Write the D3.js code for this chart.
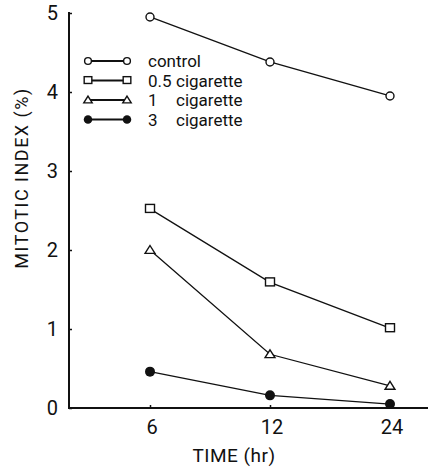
<!DOCTYPE html>
<html>
<head>
<meta charset="utf-8">
<script src="https://cdn.jsdelivr.net/npm/d3@7"></script>
<style>
  body { margin: 0; background: #fff; }
  svg { display: block; }
  text { font-family: Roboto, "Liberation Sans", sans-serif; font-weight: 400; fill: #111; }
</style>
</head>
<body>
<div id="chart"></div>
<script>
var WIDTH = 431
var HEIGHT = 469

// data
var times = ['6', '12', '24']
var control = [4.95, 4.38, 3.95]
var cig05 = [2.52, 1.59, 1.01]
var cig1 = [2.0, 0.68, 0.28]
var cig3 = [0.46, 0.16, 0.05]
var yTicks = [0, 1, 2, 3, 4, 5]

var series = [
  {num: '', name: 'control', values: control, marker: 'circle'},
  {num: '0.5', name: 'cigarette', values: cig05, marker: 'square'},
  {num: '1', name: 'cigarette', values: cig1, marker: 'triangle'},
  {num: '3', name: 'cigarette', values: cig3, marker: 'dot'}
]

var svg = d3.select('#chart').append('svg')
  .attr('width', WIDTH)
  .attr('height', HEIGHT)

var axisX = 69
var axisY = 408

var xScale = d3.scalePoint()
  .domain(times)
  .range([150, 390])

var yScale = d3.scaleLinear()
  .domain([0, 5])
  .range([axisY, 13])

// axes
var yAxis = svg.append('g')
  .attr('transform', 'translate(' + axisX + ',0)')
  .call(d3.axisRight(yScale).tickValues(yTicks).tickSize(3).tickFormat(''))
yAxis.select('.domain').remove()
yAxis.selectAll('.tick line').attr('stroke', '#111').attr('stroke-width', 1.5)
svg.append('line')
  .attr('x1', axisX).attr('x2', axisX)
  .attr('y1', yScale(5) - 1).attr('y2', axisY + 1)
  .attr('stroke', '#111').attr('stroke-width', 2)

svg.selectAll('.ylab').data(yTicks).enter().append('text')
  .attr('class', 'ylab')
  .attr('x', 58)
  .attr('y', function(d) { return yScale(d) + 7 })
  .attr('text-anchor', 'end')
  .style('font-size', '20px')
  .text(function(d) { return d })

var xAxis = svg.append('g')
  .attr('transform', 'translate(0,' + axisY + ')')
  .call(d3.axisTop(xScale).tickSize(3).tickFormat(''))
xAxis.select('.domain').remove()
xAxis.selectAll('.tick line').attr('stroke', '#111').attr('stroke-width', 1.5)
svg.append('line')
  .attr('x1', axisX - 1).attr('x2', 428)
  .attr('y1', axisY).attr('y2', axisY)
  .attr('stroke', '#111').attr('stroke-width', 2)

svg.selectAll('.xlab').data(times).enter().append('text')
  .attr('class', 'xlab')
  .attr('x', function(d) { return xScale(d) + 2 })
  .attr('y', 434)
  .attr('text-anchor', 'middle')
  .style('font-size', '20px')
  .text(function(d) { return d })

svg.append('text')
  .attr('x', 234)
  .attr('y', 462)
  .attr('text-anchor', 'middle')
  .style('font-size', '19px')
  .style('letter-spacing', '0.5px')
  .text('TIME (hr)')

svg.append('text')
  .attr('transform', 'translate(28,178) rotate(-90)')
  .attr('text-anchor', 'middle')
  .style('font-size', '18px')
  .style('letter-spacing', '1.5px')
  .text('MITOTIC INDEX (%)')

// markers
function drawMarker(g, type, x, y, s) {
  if (type === 'circle') {
    g.append('circle').attr('cx', x).attr('cy', y).attr('r', 4 * s)
      .attr('fill', '#fff').attr('stroke', '#111').attr('stroke-width', 1.4)
  } else if (type === 'square') {
    g.append('rect').attr('x', x - 4.5 * s).attr('y', y - 4.5 * s)
      .attr('width', 9 * s).attr('height', 8 * s)
      .attr('fill', '#fff').attr('stroke', '#111').attr('stroke-width', 1.4)
  } else if (type === 'triangle') {
    var h = 4.5 * s
    g.append('path')
      .attr('d', 'M' + x + ',' + (y - h) + 'L' + (x + h * 1.1) + ',' + (y + h * 0.75) + 'L' + (x - h * 1.1) + ',' + (y + h * 0.75) + 'Z')
      .attr('fill', '#fff').attr('stroke', '#111').attr('stroke-width', 1.4)
  } else {
    g.append('circle').attr('cx', x).attr('cy', y).attr('r', 5 * s)
      .attr('fill', '#111')
  }
}

var line = d3.line()
  .x(function(d, i) { return xScale(times[i]) })
  .y(function(d) { return yScale(d) })

series.forEach(function(s) {
  var g = svg.append('g')
  g.append('path')
    .datum(s.values)
    .attr('d', line)
    .attr('fill', 'none')
    .attr('stroke', '#111')
    .attr('stroke-width', 1.3)
  s.values.forEach(function(v, i) {
    drawMarker(g, s.marker, xScale(times[i]), yScale(v), 1)
  })
})

// legend
var legend = svg.append('g')
series.forEach(function(s, i) {
  var y = 61 + i * 19.5
  legend.append('line')
    .attr('x1', 88).attr('x2', 127)
    .attr('y1', y).attr('y2', y)
    .attr('stroke', '#111').attr('stroke-width', 1.8)
  drawMarker(legend, s.marker, 88, y, 0.85)
  drawMarker(legend, s.marker, 127, y, 0.85)
  if (s.num) {
    legend.append('text')
      .attr('x', 148).attr('y', y + 6)
      .style('font-size', '17px')
      .text(s.num)
    legend.append('text')
      .attr('x', 176).attr('y', y + 6)
      .style('font-size', '17px')
      .text(s.name)
  } else {
    legend.append('text')
      .attr('x', 148).attr('y', y + 6)
      .style('font-size', '17px')
      .text(s.name)
  }
})
</script>
</body>
</html>
